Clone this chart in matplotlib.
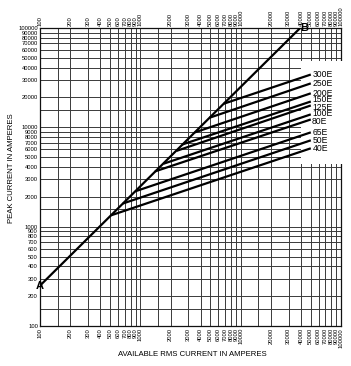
import matplotlib
matplotlib.use("Agg")
import matplotlib.pyplot as plt
from matplotlib.patches import Rectangle

plt.rcParams['font.family'] = ['Liberation Sans', 'DejaVu Sans']

# ---- data ----
tick_values = [100, 200, 300, 400, 500, 600, 700, 800, 900,
               1000, 2000, 3000, 4000, 5000, 6000, 7000, 8000, 9000,
               10000, 20000, 30000, 40000, 50000, 60000, 70000, 80000, 90000,
               100000]
tick_labels = [str(v) for v in tick_values]
extra_grid = [150, 1500, 15000]

# maximum peak line A-B
ab_x = [100, 39200]
ab_y = [255, 100000]

fuse_labels = ['300E', '250E', '200E', '150E', '125E', '100E', '80E', '65E', '50E', '40E']
start_x = [6800, 4900, 3500, 2600, 2300, 1700, 1400, 890, 670, 510]
start_y = [17300, 12500, 8900, 6700, 5800, 4300, 3600, 2270, 1710, 1300]
end_x = [50000, 50000, 50000, 50000, 50000, 50000, 50000, 50000, 50000, 50000]
end_y = [34000, 27700, 22000, 18200, 16600, 13500, 12000, 8900, 7400, 6150]

# label nudges in points (style only)
label_dy = [0, 0, 0, 1.2, -1.6, 0.8, -1.6, 0, 0, 0]
label_dx = [0, 0, 0, 0, 0, 0, -0.5, 0, 0, 0]

# ---- figure ----
fig = plt.figure(figsize=(3.51, 3.66), dpi=100)
ax = fig.add_axes([40/351, 1-326/366, 301/351, 298/366])
ax.set_xscale('log')
ax.set_yscale('log')
ax.set_xlim(100, 100000)
ax.set_ylim(100, 100000)

gc = '#3a3a3a'
for v in tick_values + extra_grid:
    ax.axvline(v, color=gc, lw=0.7, zorder=1)
    ax.axhline(v, color=gc, lw=0.7, zorder=1)

ax.xaxis.set_minor_locator(matplotlib.ticker.NullLocator())
ax.yaxis.set_minor_locator(matplotlib.ticker.NullLocator())
ax.set_xticks(tick_values)
ax.set_xticklabels(tick_labels, rotation=90)
ax.set_yticks(tick_values)
ax.set_yticklabels(tick_labels)
ax.tick_params(axis='both', which='both', length=0, labelsize=4.2, pad=1.5,
               labeltop=True, labelbottom=True)
for s in ax.spines.values():
    s.set_linewidth(0.9)
    s.set_color('#111111')

# label box (white area at right)
ax.add_patch(Rectangle((40000, 4300), 80000, 42700, facecolor='white',
                       edgecolor='none', zorder=2.6, clip_on=False))

ax.plot(ab_x, ab_y, color='black', lw=1.6, zorder=3, solid_capstyle='butt')
for lab, sx, sy, ex, ey, dx, dy in zip(fuse_labels, start_x, start_y, end_x, end_y,
                                       label_dx, label_dy):
    ax.plot([sx, ex], [sy, ey], color='black', lw=1.6, zorder=3,
            solid_capstyle='butt')
    ax.annotate(lab, (ex * 1.04, ey), xytext=(dx, dy), textcoords='offset points',
                fontsize=6.2, va='center', ha='left', zorder=4)

ax.text(100, 255, 'A', fontsize=8, fontweight='bold', ha='center', va='center', zorder=5)
ax.text(43000, 100000, 'B', fontsize=8, fontweight='bold', ha='center', va='center',
        zorder=5, clip_on=False)

fig.text(12/351, 1-168/366, 'PEAK CURRENT IN AMPERES', rotation=90,
         fontsize=5.6, ha='center', va='center')
fig.text(192/351, 1-355/366, 'AVAILABLE RMS CURRENT IN AMPERES',
         fontsize=5.6, ha='center', va='center')

fig.savefig('out.png', dpi=100)
